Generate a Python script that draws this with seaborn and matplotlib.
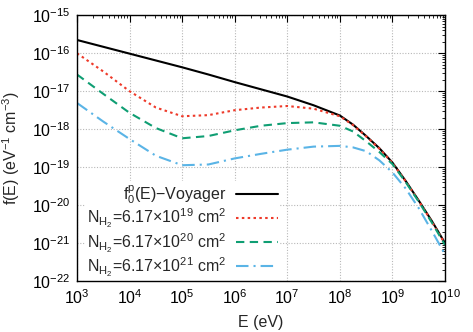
import numpy as np
import pandas as pd
import matplotlib
matplotlib.use("Agg")
import matplotlib.pyplot as plt
import matplotlib.ticker as mticker
import seaborn as sns

# ---- data (log10 units) ----
log_E = [3.0, 3.5, 4.0, 4.5, 5.0, 5.5, 6.0, 6.5, 7.0, 7.5, 8.0,
         8.25, 8.5, 8.75, 9.0, 9.25, 9.5, 9.75, 10.0]
log_f_voyager = [-15.65, -15.83, -16.01, -16.19, -16.37, -16.56, -16.76, -16.95,
                 -17.14, -17.37, -17.64, -17.88, -18.18, -18.50, -18.88, -19.36,
                 -19.88, -20.42, -21.00]
log_f_N19 = [-16.00, -16.48, -17.00, -17.43, -17.66, -17.63, -17.50, -17.43,
             -17.39, -17.46, -17.66, -17.89, -18.19, -18.51, -18.89, -19.37,
             -19.89, -20.44, -21.02]
log_f_N20 = [-16.56, -17.07, -17.57, -17.97, -18.24, -18.18, -18.03, -17.91,
             -17.84, -17.82, -17.91, -18.06, -18.32, -18.60, -18.92, -19.39,
             -19.91, -20.46, -21.05]
log_f_N21 = [-17.31, -17.80, -18.26, -18.70, -18.95, -18.93, -18.77, -18.65,
             -18.54, -18.46, -18.44, -18.48, -18.58, -18.82, -19.14, -19.56,
             -20.08, -20.68, -21.30]

labels = [r"$\mathrm{f}_0^{\mathrm{p}}$(E)−Voyager",
          r"N$_{\mathrm{H}_2}$=6.17×10$^{19}$ cm$^2$",
          r"N$_{\mathrm{H}_2}$=6.17×10$^{20}$ cm$^2$",
          r"N$_{\mathrm{H}_2}$=6.17×10$^{21}$ cm$^2$"]
series = [log_f_voyager, log_f_N19, log_f_N20, log_f_N21]

x_ticks_exp = [3, 4, 5, 6, 7, 8, 9, 10]
y_ticks_exp = [-22, -21, -20, -19, -18, -17, -16, -15]

rows = []
for lab, vals in zip(labels, series):
    for le, lf in zip(log_E, vals):
        rows.append({"E": 10.0 ** le, "f": 10.0 ** lf, "series": lab})
df = pd.DataFrame(rows)

# ---- style ----
sns.set_style("white")
plt.rcParams["font.family"] = ["Liberation Sans", "DejaVu Sans"]
plt.rcParams["mathtext.fontset"] = "custom"
plt.rcParams["mathtext.rm"] = "Liberation Sans"
plt.rcParams["mathtext.it"] = "Liberation Sans:italic"
plt.rcParams["mathtext.bf"] = "Liberation Sans:bold"
plt.rcParams["font.size"] = 11.5

colors = {labels[0]: "#000000", labels[1]: "#ee3a2a",
          labels[2]: "#0f9e73", labels[3]: "#5ab4e6"}
dashes = {labels[0]: "", labels[1]: (1.2, 1.6),
          labels[2]: (4.0, 2.6), labels[3]: (6.0, 2.4, 1.0, 2.4)}

fig = plt.figure(figsize=(4.73, 3.32), dpi=100)
ax = fig.add_axes([77 / 473, 1 - 281 / 332, 368 / 473, 265.7 / 332])

sns.lineplot(data=df, x="E", y="f", hue="series", style="series",
             palette=colors, dashes=dashes, hue_order=labels, style_order=labels,
             linewidth=1.5, ax=ax, legend=False, estimator=None, sort=False)

ax.set_xscale("log")
ax.set_yscale("log")
ax.set_xlim(10.0 ** x_ticks_exp[0], 10.0 ** x_ticks_exp[-1])
ax.set_ylim(10.0 ** y_ticks_exp[0], 10.0 ** y_ticks_exp[-1])

ax.xaxis.set_major_locator(mticker.FixedLocator([10.0 ** e for e in x_ticks_exp]))
ax.yaxis.set_major_locator(mticker.FixedLocator([10.0 ** e for e in y_ticks_exp]))
ax.xaxis.set_major_formatter(mticker.LogFormatterMathtext())
ax.yaxis.set_major_formatter(mticker.LogFormatterMathtext())
ax.xaxis.set_minor_locator(mticker.LogLocator(base=10, subs=np.arange(2, 10), numticks=100))
ax.yaxis.set_minor_locator(mticker.LogLocator(base=10, subs=np.arange(2, 10), numticks=100))
ax.xaxis.set_minor_formatter(mticker.NullFormatter())
ax.yaxis.set_minor_formatter(mticker.NullFormatter())

ax.tick_params(which="both", direction="in", top=True, right=True,
               colors="black", labelsize=11.5)
ax.tick_params(which="major", length=5, width=0.8, pad=5)
ax.tick_params(which="minor", length=2.5, width=0.6)
for sp in ax.spines.values():
    sp.set_color("black")
    sp.set_linewidth(1.0)
    sp.set_zorder(10)

ax.grid(True, which="major", color="#b8b8b8", linestyle=(0, (1, 1.5)), linewidth=0.8)
ax.set_axisbelow(True)

ax.set_xlabel("E (eV)", labelpad=6)
ax.set_ylabel(r"f(E) (eV$^{-1}$ cm$^{-3}$)", labelpad=7)

handles = ax.get_lines()[:4]
leg = ax.legend(handles, labels, loc="lower right", bbox_to_anchor=(0.552, 0.0),
                markerfirst=False, frameon=True, framealpha=1.0, facecolor="white",
                edgecolor="none", fancybox=False, borderpad=0.15,
                handlelength=2.6, handletextpad=0.6, labelspacing=0.05,
                fontsize=11.5, borderaxespad=0.0)
leg.get_frame().set_linewidth(0)

fig.savefig("out.png", dpi=100)
